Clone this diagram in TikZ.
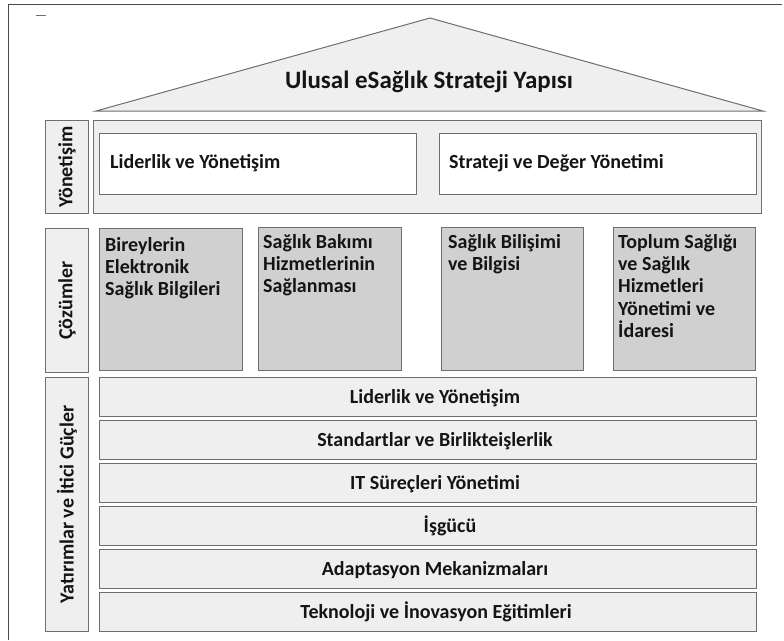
\documentclass[tikz,border=0pt]{standalone}
\usepackage{fontspec}
\setmainfont{Carlito}
\definecolor{bordc}{HTML}{6E6E6E}
\definecolor{lightf}{HTML}{EFEFEF}
\definecolor{darkf}{HTML}{D0D0D0}
\definecolor{txtc}{HTML}{141414}
\definecolor{framec}{HTML}{4A4A4A}
\begin{document}
\begin{tikzpicture}[x=1pt,y=-1pt,
  box/.style={draw=bordc, line width=1pt, inner sep=0pt, anchor=north west},
  txt/.style={font=\bfseries\fontsize{20}{22.3}\selectfont, text=txtc, inner sep=0pt},
  ttl/.style={font=\bfseries\fontsize{25}{28}\selectfont, text=txtc, inner sep=0pt}]
\useasboundingbox (0,0) rectangle (784,640);
% outer frame
\coordinate (fb) at (8,640);
\coordinate (fc) at (8,4);
\coordinate (fr) at (782,4);
\draw[framec, line width=1pt] (fb) -- (fc) -- (fr);
\coordinate (m1) at (36,15);
\coordinate (m2) at (46,15);
\draw[bordc, line width=0.6pt] (m1) -- (m2);
% roof
\coordinate (rl) at (96,111);
\coordinate (ra) at (430,18);
\coordinate (rr) at (763,111);
\draw[bordc, fill=lightf, line width=1pt] (rl) -- (ra) -- (rr) -- cycle;
\node[ttl, anchor=base] (title) at (429,88) {Ulusal eSağlık Strateji Yapısı};
% Yonetisim
\node[box, fill=lightf, minimum width=43, minimum height=93] (lyon) at (45,120) {};
\node[box, fill=lightf, minimum width=668, minimum height=93] (pyon) at (93,120) {};
\node[box, fill=white, minimum width=317, minimum height=61] (lider) at (99,133) {};
\node[box, fill=white, minimum width=317, minimum height=61] (strat) at (439,133) {};
\node[txt, anchor=base west] (tlider) at (110,168) {Liderlik ve Yönetişim};
\node[txt, anchor=base west] (tstrat) at (449,168) {Strateji ve Değer Yönetimi};
\node[txt, rotate=90] (tyon) at (lyon.center) {Yönetişim};
% Cozumler
\node[box, fill=lightf, minimum width=43, minimum height=144] (lcoz) at (45,228) {};
\node[box, fill=darkf, minimum width=143, minimum height=142] (b1) at (99,228) {};
\node[box, fill=darkf, minimum width=143, minimum height=143] (b2) at (258,227) {};
\node[box, fill=darkf, minimum width=142, minimum height=143] (b3) at (441,227) {};
\node[box, fill=darkf, minimum width=142, minimum height=143] (b4) at (613,227) {};
\node[txt, rotate=90] (tcoz) at (lcoz.center) {Çözümler};
\node[txt, anchor=north west, align=left] (tb1) at (105,237) {Bireylerin\\Elektronik\\Sağlık Bilgileri};
\node[txt, anchor=north west, align=left] (tb2) at (263,234) {Sağlık Bakımı\\Hizmetlerinin\\Sağlanması};
\node[txt, anchor=north west, align=left] (tb3) at (448,234) {Sağlık Bilişimi\\ve Bilgisi};
\node[txt, anchor=north west, align=left] (tb4) at (618,234) {Toplum Sağlığı\\ve Sağlık\\Hizmetleri\\Yönetimi ve\\İdaresi};
% Yatirimlar
\node[box, fill=lightf, minimum width=43, minimum height=254] (lyat) at (45,377) {};
\node[txt, rotate=90] (tyat) at (lyat.center) {Yatırımlar ve İtici Güçler};
\node[box, fill=lightf, minimum width=657, minimum height=39] (r1) at (99,377) {};
\node[box, fill=lightf, minimum width=657, minimum height=39] (r2) at (99,420) {};
\node[box, fill=lightf, minimum width=657, minimum height=39] (r3) at (99,463) {};
\node[box, fill=lightf, minimum width=657, minimum height=39] (r4) at (99,506) {};
\node[box, fill=lightf, minimum width=657, minimum height=39] (r5) at (99,549) {};
\node[box, fill=lightf, minimum width=657, minimum height=39] (r6) at (99,592) {};
\node[txt, anchor=base] (t1) at (435,403) {Liderlik ve Yönetişim};
\node[txt, anchor=base] (t2) at (435,446) {Standartlar ve Birlikteişlerlik};
\node[txt, anchor=base] (t3) at (435,489) {IT Süreçleri Yönetimi};
\node[txt, anchor=base] (t4) at (450,532) {İşgücü};
\node[txt, anchor=base] (t5) at (435,575) {Adaptasyon Mekanizmaları};
\node[txt, anchor=base] (t6) at (436,618) {Teknoloji ve İnovasyon Eğitimleri};
\end{tikzpicture}
\end{document}
